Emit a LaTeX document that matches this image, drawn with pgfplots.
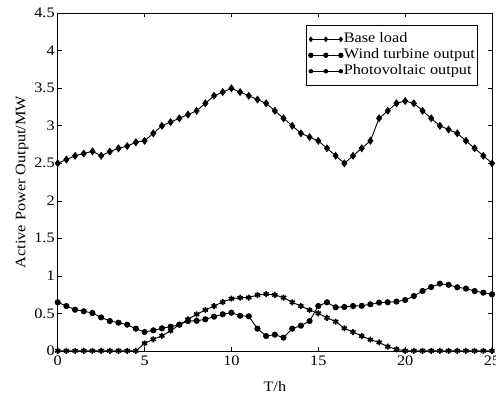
\documentclass[border=0pt]{standalone}
\usepackage{fontspec}
\setmainfont{Liberation Serif}[FakeStretch=1.12]
\usepackage{pgfplots}
\pgfplotsset{compat=1.18}
\usepackage{pgfplotstable}

\pgfplotstableread{
t base wind pv
0 2.50 0.647 0
0.5 2.55 0.597 0
1 2.60 0.548 0
1.5 2.63 0.527 0
2 2.66 0.504 0
2.5 2.60 0.446 0
3 2.655 0.397 0
3.5 2.70 0.375 0
4 2.73 0.348 0
4.5 2.78 0.295 0
5 2.80 0.25 0.10
5.5 2.90 0.273 0.153
6 3.00 0.30 0.20
6.5 3.05 0.322 0.268
7 3.10 0.348 0.345
7.5 3.15 0.397 0.42
8 3.20 0.40 0.487
8.5 3.30 0.42 0.544
9 3.40 0.455 0.597
9.5 3.45 0.487 0.65
10 3.50 0.508 0.695
10.5 3.45 0.468 0.708
11 3.40 0.46 0.71
11.5 3.35 0.295 0.744
12 3.30 0.197 0.757
12.5 3.20 0.215 0.745
13 3.10 0.175 0.71
13.5 3.00 0.295 0.647
14 2.90 0.335 0.597
14.5 2.85 0.397 0.544
15 2.80 0.597 0.50
15.5 2.70 0.647 0.44
16 2.60 0.58 0.39
16.5 2.50 0.584 0.30
17 2.60 0.597 0.25
17.5 2.70 0.60 0.197
18 2.80 0.62 0.148
18.5 3.10 0.642 0.112
19 3.20 0.647 0.055
19.5 3.30 0.656 0.02
20 3.33 0.677 0
20.5 3.30 0.73 0
21 3.20 0.797 0
21.5 3.10 0.85 0
22 3.00 0.895 0
22.5 2.95 0.88 0
23 2.90 0.847 0
23.5 2.80 0.83 0
24 2.70 0.797 0
24.5 2.60 0.775 0
25 2.50 0.753 0
}\datatable

\begin{document}
\fontsize{14.5bp}{17bp}\selectfont
\begin{tikzpicture}
\begin{axis}[
  scale only axis,
  width=434.3bp, height=337.5bp,
  xmin=0, xmax=25, ymin=0, ymax=4.5,
  xtick={0,5,10,15,20,25},
  ytick={0,0.5,1,1.5,2,2.5,3,3.5,4,4.5},
  yticklabels={0,0.5,1,1.5,2,2.5,3,3.5,4,4.5},
  xticklabels={0,5,10,15,20,25},
  tick align=inside,
  major tick length=4bp,
  tick style={black, line width=0.6bp},
  axis line style={black, line width=0.6bp},
  ticklabel style={font=\fontsize{14.5bp}{17bp}\selectfont},
  yticklabel style={xshift=2bp},
  /pgf/number format/assume math mode=true,
  xlabel={T/h},
  ylabel={Active Power Output/MW},
  label style={font=\fontsize{14.5bp}{17bp}\selectfont},
  xlabel style={at={(axis description cs:0.5,0)}, anchor=center, yshift=-36bp},
  ylabel style={at={(axis description cs:0,0.5)}, anchor=center, yshift=35.7bp},
  legend cell align=left,
  legend style={at={(1,1)}, anchor=north east, xshift=-14bp, yshift=-11.7bp,
    draw=black, line width=0.6bp, inner xsep=2bp, inner ysep=6bp,
    row sep=0bp,
    nodes={font=\fontsize{14.5bp}{17bp}\selectfont, inner xsep=0.8bp, inner ysep=0.5bp, text height=11bp, text depth=4bp}},
  legend image code/.code={\draw[#1, mark size=2.2bp] plot coordinates {(0bp,0bp) (15bp,0bp) (30bp,0bp)};
    \draw[#1, mark size=2.2bp, mark=none] (0bp,0bp) -- (30bp,0bp);},
  every axis plot/.append style={black, line width=0.9bp},
]
\addplot[mark=diamond*, mark size=3.3bp, mark options={solid}] table[x=t, y=base] {\datatable};
\addlegendentry{Base load}
\addplot[mark=*, mark size=2.6bp] table[x=t, y=wind] {\datatable};
\addlegendentry{Wind turbine output}
\addplot[mark=asterisk, mark size=3bp, mark options={line width=1.6bp}] table[x=t, y=pv] {\datatable};
\addlegendentry{Photovoltaic output}
\end{axis}
\pgfresetboundingbox
\path (current axis.south west) ++(-57.7bp,-43.2bp) coordinate (bbA);
\path (current axis.north east) ++(4bp,13.3bp) coordinate (bbB);
\useasboundingbox (bbA) rectangle (bbB);
\end{tikzpicture}
\end{document}
